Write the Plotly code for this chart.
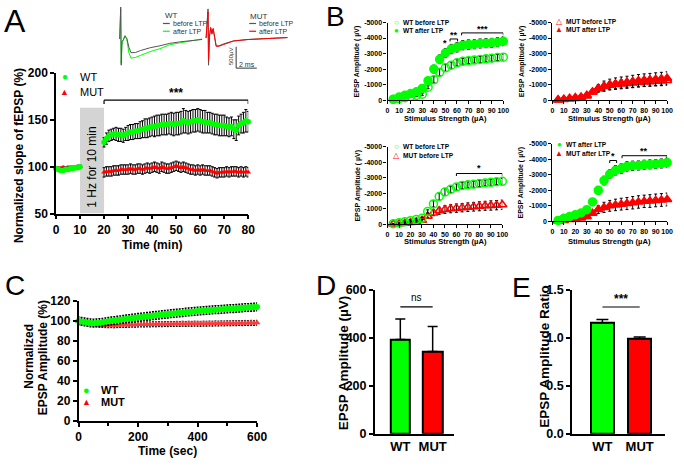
import plotly.graph_objects as go

FONT = "Liberation Sans, Arial, sans-serif"
GREEN = "#00ff00"
RED = "#ff0000"
W, H = 684, 466

# ---------------- Panel A data ----------------
a_time_base = [0, 1, 2, 3, 4, 5, 6, 7, 8, 9, 10]
a_wt_base = [98, 97, 96, 96, 97, 97, 98, 98, 99, 99, 100]
a_wt_base_err = [1.5, 1.5, 1.5, 1.5, 1.5, 1.5, 1.5, 1.5, 1.5, 1.5, 1.5]
a_mut_base = [98, 98, 98, 99, 98, 99, 99, 99, 99, 100, 100]
a_mut_base_err = [1.5, 1.5, 1.5, 1.5, 1.5, 1.5, 1.5, 1.5, 1.5, 1.5, 1.5]
a_time_post = list(range(20, 81))
a_wt_post = [126, 130, 133, 134, 135, 135, 134, 134, 133, 135, 136, 137, 137, 138, 138,
             139, 140, 141, 141, 142, 143, 143, 144, 144, 145, 145, 145, 146, 146, 145,
             146, 146, 147, 149, 148, 147, 148, 149, 149, 150, 149, 148, 148, 147, 147,
             146, 145, 145, 144, 144, 144, 143, 142, 143, 140, 139, 144, 146, 147, 149, 148]
a_wt_post_err = [5, 6, 6, 6, 6, 7, 7, 7, 7, 7, 8, 8, 8, 8, 8, 9, 9, 10, 10, 10, 10,
                 11, 11, 11, 11, 11, 11, 11, 12, 12, 12, 12, 12, 13, 12, 12, 12, 12, 12,
                 12, 12, 12, 12, 11, 11, 11, 11, 11, 11, 11, 11, 10, 10, 10, 10, 11, 10,
                 10, 11, 12, 11]
a_mut_post = [94, 95, 95, 95, 96, 96, 96, 97, 97, 97, 97, 98, 97, 97, 98, 98, 97, 98,
              99, 98, 99, 100, 99, 98, 100, 99, 98, 98, 99, 100, 101, 100, 99, 100, 99,
              98, 97, 97, 96, 97, 96, 97, 96, 96, 96, 95, 94, 93, 94, 94, 94, 95, 94,
              95, 95, 95, 94, 95, 94, 95, 94]
a_mut_post_err = [5] * 61
a_xticks = [0, 10, 20, 30, 40, 50, 60, 70, 80]
a_yticks = [50, 100, 150, 200]

# ---------------- Inset traces (ms, uV) ----------------
wt_trace_t = [-0.1, 0, 0.05, 0.12, 0.25, 0.42, 0.6, 0.8, 1.0, 1.43, 1.9, 2.86, 3.81, 4.76, 5.71, 6.67, 7.9]
wt_trace_before = [0, 749, -613, -60, -20, 68, 10, -200, -320, -318, -272, -204, -159, -102, -68, -45, -11]
wt_trace_after = [0, 700, -570, -120, -30, 84, -20, -330, -449, -431, -386, -295, -227, -136, -91, -45, 0]
mut_trace_t = [-0.19, 0, 0.05, 0.14, 0.26, 0.38, 0.50, 0.62, 0.79, 1.05, 1.52, 2.48, 3.90, 5.81, 7.71]
mut_trace_before = [0, 681, -636, 45, 227, 91, 204, 0, -182, -182, -136, -68, -34, -11, 11]
mut_trace_after = [0, 613, -522, 45, 250, 113, 227, 23, -193, -193, -147, -68, -34, -11, 11]

# ---------------- Panel B data ----------------
b_stim = [5, 10, 15, 20, 25, 30, 35, 40, 45, 50, 55, 60, 65, 70, 75, 80, 85, 90, 95, 100]
b_wt_before = [-40, -100, -160, -230, -300, -380, -830, -1310, -1790, -2080, -2250, -2400,
               -2500, -2540, -2580, -2620, -2660, -2700, -2740, -2770]
b_wt_before_err = [20, 30, 40, 50, 60, 70, 100, 200, 230, 220, 200, 200, 190, 190, 190, 190, 190, 190, 190, 190]
b_wt_after = [-60, -200, -310, -420, -540, -750, -1250, -2000, -2630, -3040, -3290, -3400,
              -3540, -3580, -3600, -3650, -3670, -3690, -3730, -3790]
b_wt_after_err = [20, 30, 40, 50, 60, 80, 120, 250, 280, 280, 300, 300, 300, 300, 290, 290, 290, 290, 290, 290]
b_mut_before = [-15, -40, -70, -110, -160, -260, -520, -730, -870, -950, -1000, -1040,
                -1070, -1100, -1130, -1160, -1190, -1210, -1230, -1260]
b_mut_before_err = [20, 30, 30, 40, 40, 50, 80, 180, 230, 250, 260, 270, 270, 280, 280, 290, 290, 300, 300, 300]
b_mut_after = [-20, -60, -120, -170, -210, -310, -520, -760, -900, -1000, -1060, -1110,
               -1150, -1200, -1250, -1290, -1310, -1350, -1380, -1410]
b_mut_after_err = [20, 30, 40, 40, 50, 60, 90, 250, 330, 350, 370, 380, 390, 400, 400, 400, 410, 410, 410, 415]
b_xticks = [0, 10, 20, 30, 40, 50, 60, 70, 80, 90, 100]
b_yticks = [0, -1000, -2000, -3000, -4000, -5000]
b_yticklabels = ["0", "-1000", "-2000", "-3000", "-4000", "-5000"]

# ---------------- Panel C data ----------------
c_time = list(range(0, 601, 10))
c_wt = [100.0, 99.5, 99.0, 98.5, 98.0, 97.8, 98.0, 98.3, 98.7, 99.1, 99.6, 100.0, 100.4,
        100.8, 101.2, 101.6, 102.0, 102.4, 102.8, 103.1, 103.5, 103.8, 104.2, 104.5, 104.9,
        105.2, 105.6, 105.9, 106.3, 106.6, 106.9, 107.2, 107.5, 107.8, 108.1, 108.4, 108.7,
        109.0, 109.2, 109.5, 109.8, 110.0, 110.3, 110.5, 110.8, 111.0, 111.2, 111.4, 111.6,
        111.8, 112.0, 112.2, 112.4, 112.6, 112.8, 113.0, 113.4, 113.4, 113.6, 113.8, 114.0]
c_wt_err = [4] * 61
c_mut = [99.5, 99.2, 98.8, 98.3, 97.8, 97.2, 96.7, 96.2, 96.0, 95.8, 95.7, 95.8, 95.6, 95.8,
         96.0, 96.1, 96.0, 96.2, 96.3, 96.2, 96.4, 96.5, 96.4, 96.6, 96.5, 96.7, 96.6, 96.8,
         96.7, 96.9, 96.8, 97.0, 96.9, 97.1, 97.0, 97.2, 97.0, 97.2, 97.1, 97.3, 97.2, 97.1,
         97.3, 97.2, 97.4, 97.3, 97.5, 97.4, 97.6, 97.5, 97.7, 97.6, 97.8, 97.7, 97.9, 97.8,
         98.0, 97.9, 98.1, 98.0, 98.2]
c_mut_err = [2.5] * 61
c_xticks = [0, 200, 400, 600]
c_yticks = [0, 20, 40, 60, 80, 100, 120]

# ---------------- Panels D / E data ----------------
groups = ["WT", "MUT"]
d_amp = [393, 343]
d_err = [85, 104]
e_ratio = [1.155, 0.987]
e_err = [0.035, 0.02]
d_yticks = [0, 200, 400, 600]
e_yticks = [0.0, 0.5, 1.0, 1.5]
e_yticklabels = ["0.0", "0.5", "1.0", "1.5"]


def fx(x):
    return x / W


def fy(y):
    return 1 - y / H


def axstyle(size, **kw):
    d = dict(showline=True, linecolor="black", linewidth=1.5, ticks="outside",
             ticklen=4, tickwidth=1.5, tickcolor="black", showgrid=False,
             zeroline=False, fixedrange=True, tickangle=0,
             tickfont=dict(family=FONT, size=size, color="black", weight=700))
    d.update(kw)
    return d


fig = go.Figure()

EB = dict(type="data", color="black", thickness=1, width=1.5)

# ---- Panel A traces ----
fig.add_trace(go.Scatter(x=a_time_base + a_time_post, y=a_mut_base + a_mut_post,
                         error_y=dict(array=a_mut_base_err + a_mut_post_err, **EB),
                         mode="markers", marker=dict(symbol="triangle-up", size=5, color=RED),
                         xaxis="x", yaxis="y", cliponaxis=False))
fig.add_trace(go.Scatter(x=a_time_base + a_time_post, y=a_wt_base + a_wt_post,
                         error_y=dict(array=a_wt_base_err + a_wt_post_err, **EB),
                         mode="markers", marker=dict(symbol="circle", size=5.5, color=GREEN),
                         xaxis="x", yaxis="y", cliponaxis=False))

# ---- Insets ----
fig.add_trace(go.Scatter(x=wt_trace_t, y=wt_trace_after, mode="lines",
                         line=dict(color=GREEN, width=1), xaxis="x2", yaxis="y2"))
fig.add_trace(go.Scatter(x=wt_trace_t, y=wt_trace_before, mode="lines",
                         line=dict(color="#555555", width=1), xaxis="x2", yaxis="y2"))
fig.add_trace(go.Scatter(x=mut_trace_t, y=mut_trace_before, mode="lines",
                         line=dict(color="#555555", width=1), xaxis="x3", yaxis="y3"))
fig.add_trace(go.Scatter(x=mut_trace_t, y=mut_trace_after, mode="lines",
                         line=dict(color=RED, width=1), xaxis="x3", yaxis="y3"))


# ---- Panel B traces ----
def bscat(y, err, symbol, color, ax):
    return go.Scatter(x=b_stim, y=y, error_y=dict(array=err, type="data", color="black", thickness=1, width=1.5),
                      mode="markers",
                      marker=dict(symbol=symbol, size=8, color=color, line=dict(color=color, width=1.5)),
                      xaxis="x" + ax, yaxis="y" + ax, cliponaxis=False)


fig.add_trace(bscat(b_wt_before, b_wt_before_err, "circle-open", GREEN, "4"))
fig.add_trace(bscat(b_wt_after, b_wt_after_err, "circle", GREEN, "4"))
fig.add_trace(bscat(b_mut_before, b_mut_before_err, "triangle-up-open", RED, "5"))
fig.add_trace(bscat(b_mut_after, b_mut_after_err, "triangle-up", RED, "5"))
fig.add_trace(bscat(b_mut_before, b_mut_before_err, "triangle-up-open", RED, "6"))
fig.add_trace(bscat(b_wt_before, b_wt_before_err, "circle-open", GREEN, "6"))
fig.add_trace(bscat(b_mut_after, b_mut_after_err, "triangle-up", RED, "7"))
fig.add_trace(bscat(b_wt_after, b_wt_after_err, "circle", GREEN, "7"))

# ---- Panel C traces ----
fig.add_trace(go.Scatter(x=c_time, y=c_mut, error_y=dict(array=c_mut_err, type="data", color="black", thickness=1, width=1),
                         mode="markers", marker=dict(symbol="triangle-up", size=6, color="#ff3b3b"),
                         xaxis="x8", yaxis="y8", cliponaxis=False))
fig.add_trace(go.Scatter(x=c_time, y=c_wt, error_y=dict(array=c_wt_err, type="data", color="black", thickness=1.2, width=1),
                         mode="markers", marker=dict(symbol="circle", size=6, color=GREEN),
                         xaxis="x8", yaxis="y8", cliponaxis=False))

# ---- Panels D, E ----
fig.add_trace(go.Bar(x=groups, y=d_amp, width=0.6, marker=dict(color=[GREEN, RED], line=dict(color="black", width=2)),
                     error_y=dict(type="data", array=d_err, arrayminus=[0, 0], symmetric=False,
                                  color="black", thickness=1.5, width=5),
                     xaxis="x9", yaxis="y9"))
fig.add_trace(go.Bar(x=groups, y=e_ratio, width=0.63, marker=dict(color=[GREEN, RED], line=dict(color="black", width=2)),
                     error_y=dict(type="data", array=e_err, arrayminus=[0, 0], symmetric=False,
                                  color="black", thickness=1.5, width=6),
                     xaxis="x10", yaxis="y10"))

annotations = []
shapes = []


def T(text, x, y, size, xref="paper", yref="paper", angle=0, color="black", weight=400,
      xanchor="center", yanchor="middle"):
    if xref == "paper":
        x = fx(x)
    if yref == "paper":
        y = fy(y)
    annotations.append(dict(text=text, x=x, y=y, xref=xref, yref=yref, showarrow=False,
                            textangle=angle, xanchor=xanchor, yanchor=yanchor, borderpad=0,
                            font=dict(family=FONT, size=size, color=color, weight=weight)))


def L(x0, y0, x1, y1, xref="paper", yref="paper", color="black", width=1):
    if xref == "paper":
        x0, x1 = fx(x0), fx(x1)
    if yref == "paper":
        y0, y1 = fy(y0), fy(y1)
    shapes.append(dict(type="line", x0=x0, y0=y0, x1=x1, y1=y1, xref=xref, yref=yref,
                       line=dict(color=color, width=width)))


def bracket(x0, x1, y, ytip, xr, yr, width=1):
    L(x0, y, x1, y, xr, yr, width=width)
    L(x0, y, x0, ytip, xr, yr, width=width)
    L(x1, y, x1, ytip, xr, yr, width=width)


# panel letters
T("A", 12, 14, 32)
T("B", 339, 10, 28)
T("C", 12, 287, 28)
T("D", 329, 287, 28)
T("E", 529, 289, 28)

# Panel A decorations
shapes.append(dict(type="rect", x0=10, x1=20, y0=50, y1=163, xref="x", yref="y",
                   fillcolor="#d4d4d4", line=dict(width=0), layer="below"))
T("1 Hz for 10 min", 15, 99, 12, xref="x", yref="y", angle=-90)
bracket(20, 80, 171, 167, "x", "y", width=1.2)
T("<b>***</b>", 50, 179, 12, xref="x", yref="y")
T("●", 63, 72, 10, color=GREEN)
T("WT", 77, 72, 11, xanchor="left")
T("▲", 63, 88, 9, color=RED)
T("MUT", 77, 88, 11, xanchor="left")
T("Normalized slope of fEPSP (%)", 17, 153, 12, angle=-90, weight=700)
T("Time (min)", 152, 245, 12, weight=700)

# Inset legends and scale bar
T("WT", 164, 9, 8, color="#333333", xanchor="left")
L(163, 17, 170, 17, color="#555555", width=1.2)
T("before LTP", 172, 17, 7, color="#333333", xanchor="left")
L(163, 25, 170, 25, color=GREEN, width=1.2)
T("after LTP", 172, 25, 7, color="#333333", xanchor="left")
T("MUT", 251, 10, 8, color="#333333", xanchor="left")
L(251, 17, 258, 17, color="#555555", width=1.2)
T("before LTP", 260, 17, 7, color="#333333", xanchor="left")
L(251, 25, 258, 25, color=RED, width=1.2)
T("after LTP", 260, 25, 7, color="#333333", xanchor="left")
L(2.73, -704, 2.73, -204, "x3", "y3", color="#333333", width=1)
L(2.73, -704, 4.73, -704, "x3", "y3", color="#333333", width=1)
T("500µV", 233, 51, 6, angle=-90, color="#333333")
T("2 ms", 249, 59, 7, color="#333333")

# Panel B decorations
LEG_B = 6.6
T("○", 401, 16, 8, color=GREEN)
T("WT before LTP", 407, 16, LEG_B, weight=700, xanchor="left")
T("●", 401, 24, 8, color=GREEN)
T("WT after LTP", 407, 24, LEG_B, weight=700, xanchor="left")
T("△", 567, 15, 8, color=RED)
T("MUT before LTP", 573, 15, LEG_B, weight=700, xanchor="left")
T("▲", 567, 23, 8, color=RED)
T("MUT after LTP", 573, 23, LEG_B, weight=700, xanchor="left")
T("○", 401, 144, 8, color=GREEN)
T("WT before LTP", 407, 144, LEG_B, weight=700, xanchor="left")
T("△", 401, 153, 8, color=RED)
T("MUT before LTP", 407, 153, LEG_B, weight=700, xanchor="left")
T("●", 567, 142, 8, color=GREEN)
T("WT after LTP", 573, 142, LEG_B, weight=700, xanchor="left")
T("▲", 567, 151, 8, color=RED)
T("MUT after LTP", 573, 151, LEG_B, weight=700, xanchor="left")

T("*", 50, -3650, 9, xref="x4", yref="y4", weight=700)
bracket(54, 60.5, -3940, -3780, "x4", "y4")
T("**", 57, -4200, 9, xref="x4", yref="y4", weight=700)
bracket(64, 100, -4330, -4170, "x4", "y4")
T("***", 82, -4580, 9, xref="x4", yref="y4", weight=700)
bracket(60, 100, -3270, -3110, "x6", "y6")
T("*", 80, -3650, 9, xref="x6", yref="y6", weight=700)
bracket(50, 56, -3920, -3760, "x7", "y7")
T("*", 53, -4200, 9, xref="x7", yref="y7", weight=700)
bracket(60.7, 100, -4230, -4070, "x7", "y7")
T("**", 80, -4520, 9, xref="x7", yref="y7", weight=700)

for cx, cy in [(361, 56), (529, 56), (362, 184), (528, 181)]:
    T("EPSP Amplitude ( µV)", cx, cy, 7, angle=-90, weight=700)
for cx, cy in [(451, 115), (618, 115), (451, 242), (618, 242)]:
    T("Stimulus Strength (µA)", cx, cy, 7.6, weight=700)

# Panel C decorations
L(520, 123, 600, 123, "x8", "y8", width=1.2)
T("<b>**</b>", 560, 128, 11, xref="x8", yref="y8")
T("●", 85, 395, 11, color=GREEN)
T("WT", 99, 395, 11, weight=700, xanchor="left")
T("▲", 85, 407, 9, color=RED)
T("MUT", 99, 407, 11, weight=700, xanchor="left")
T("Normalized", 27, 360, 12, angle=-90, weight=700)
T("EPSP Amplitude (%)", 41, 362, 12, angle=-90, weight=700)
T("Time (sec)", 168, 458, 12, weight=700)

# Panel D / E decorations
L(0, 529, 1, 529, "x9", "y9", width=1.2)
T("ns", 0.5, 566, 10, xref="x9", yref="y9")
T("EPSP Amplitude (µV)", 348, 367, 13.5, angle=-90, weight=700)
L(0, 1.32, 1, 1.32, "x10", "y10", width=1.2)
T("<b>***</b>", 0.5, 1.40, 12, xref="x10", yref="y10")
T("EPSP Amplitude Ratio", 552, 360, 13.5, angle=-90, weight=700)

BW = dict(ticklen=3, linewidth=1.2, tickwidth=1.2)
layout = dict(
    width=W, height=H, autosize=False,
    margin=dict(l=0, r=0, t=0, b=0, pad=0),
    paper_bgcolor="white", plot_bgcolor="rgba(0,0,0,0)",
    showlegend=False, bargap=0,
    annotations=annotations, shapes=shapes,
    # Panel A
    xaxis=axstyle(12, domain=[fx(54), fx(250)], range=[0, 80], tickvals=a_xticks, anchor="y"),
    yaxis=axstyle(12, domain=[fy(213), fy(68)], range=[50, 200], tickvals=a_yticks, anchor="x"),
    # insets
    xaxis2=dict(domain=[fx(118), fx(206)], range=[-0.19, 8.19], visible=False, anchor="y2"),
    yaxis2=dict(domain=[fy(64), fy(0)], range=[-704, 749], visible=False, anchor="x2"),
    xaxis3=dict(domain=[fx(206), fx(294)], range=[-0.286, 8.095], visible=False, anchor="y3"),
    yaxis3=dict(domain=[fy(64), fy(0)], range=[-726, 726], visible=False, anchor="x3"),
    # B panels
    xaxis4=axstyle(7, domain=[fx(392), fx(510)], range=[0, 100], tickvals=b_xticks, anchor="y4", **BW),
    yaxis4=axstyle(7, domain=[fy(96), fy(16)], range=[0, -5000], tickvals=b_yticks, ticktext=b_yticklabels, anchor="x4", **BW),
    xaxis5=axstyle(7, domain=[fx(560), fx(677)], range=[0, 100], tickvals=b_xticks, anchor="y5", **BW),
    yaxis5=axstyle(7, domain=[fy(96), fy(16)], range=[0, -5000], tickvals=b_yticks, ticktext=b_yticklabels, anchor="x5", **BW),
    xaxis6=axstyle(7, domain=[fx(392), fx(509)], range=[0, 100], tickvals=b_xticks, anchor="y6", **BW),
    yaxis6=axstyle(7, domain=[fy(224), fy(144)], range=[0, -5000], tickvals=b_yticks, ticktext=b_yticklabels, anchor="x6", **BW),
    xaxis7=axstyle(7, domain=[fx(560), fx(677)], range=[0, 100], tickvals=b_xticks, anchor="y7", **BW),
    yaxis7=axstyle(7, domain=[fy(221), fy(141)], range=[0, -5000], tickvals=b_yticks, ticktext=b_yticklabels, anchor="x7", **BW),
    # C
    xaxis8=axstyle(12, domain=[fx(77), fx(259)], range=[0, 600], tickvals=c_xticks, anchor="y8",
                   minor=dict(tickvals=[100, 300, 500], ticks="outside", ticklen=3, tickwidth=1.5, tickcolor="black")),
    yaxis8=axstyle(12, domain=[fy(427), fy(303)], range=[0, 120], tickvals=c_yticks, anchor="x8"),
    # D
    xaxis9=axstyle(13, domain=[fx(379), fx(460)], type="category", range=[-0.789, 1.668], ticks="", anchor="y9"),
    yaxis9=axstyle(12.5, domain=[fy(440), fy(291.5)], range=[0, 600], tickvals=d_yticks, anchor="x9"),
    # E
    xaxis10=axstyle(13, domain=[fx(580), fx(675)], type="category", range=[-0.816, 1.684], ticks="", anchor="y10"),
    yaxis10=axstyle(12.5, domain=[fy(440), fy(291.5)], range=[0, 1.5], tickvals=e_yticks, ticktext=e_yticklabels, anchor="x10"),
)
fig.update_layout(**layout)

fig.write_html("out.html", config={"displayModeBar": False},
               post_script="document.body.style.margin='0';document.body.style.overflow='hidden';")
